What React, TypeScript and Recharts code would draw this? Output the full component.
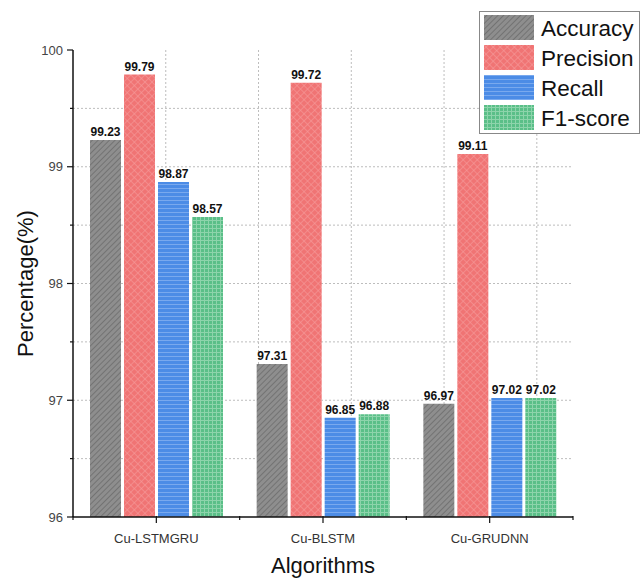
import { BarChart, Bar, XAxis, YAxis, CartesianGrid, Legend, LabelList, Label } from "recharts";

const categories = ["Cu-LSTMGRU", "Cu-BLSTM", "Cu-GRUDNN"];
const accuracy = [99.23, 97.31, 96.97];
const precision = [99.79, 99.72, 99.11];
const recall = [98.87, 96.85, 97.02];
const f1Score = [98.57, 96.88, 97.02];
const yTicks = [96, 96.5, 97, 97.5, 98, 98.5, 99, 99.5, 100];
const gridRows = [96.5, 97, 97.5, 98, 98.5, 99, 99.5];
// vertical grid steps of the original plot (x range 0..5.39)
const gridCols = [1, 2, 3, 4, 5];
const gridSpan = 5.39;

const series = [
  { key: "accuracy", name: "Accuracy", fill: "url(#patAcc)" },
  { key: "precision", name: "Precision", fill: "url(#patPrec)" },
  { key: "recall", name: "Recall", fill: "url(#patRec)" },
  { key: "f1", name: "F1-score", fill: "url(#patF1)" },
];

const data = categories.map((name, i) => ({
  name,
  accuracy: accuracy[i],
  precision: precision[i],
  recall: recall[i],
  f1: f1Score[i],
}));

const FONT = '"Liberation Sans", Arial, sans-serif';

function YTick(props: any) {
  const { x, y, payload } = props;
  const major = Number.isInteger(payload.value);
  return (
    <g>
      <line x1={x - (major ? 6 : 3)} x2={x} y1={y} y2={y} stroke="#111" strokeWidth={1.2} />
      {major && (
        <text x={x - 10} y={y} dy={4.5} textAnchor="end" fontSize={13} fill="#444" fontFamily={FONT}>
          {payload.value}
        </text>
      )}
    </g>
  );
}

function XTick(props: any) {
  const { x, y, payload, width, visibleTicksCount, index } = props;
  const half = width / visibleTicksCount / 2;
  return (
    <g>
      <line x1={x} x2={x} y1={y - 1} y2={y + 6} stroke="#111" strokeWidth={1.2} />
      <line x1={x - half} x2={x - half} y1={y - 1} y2={y + 3} stroke="#111" strokeWidth={1.2} />
      {index === visibleTicksCount - 1 && (
        <line x1={x + half} x2={x + half} y1={y - 1} y2={y + 3} stroke="#111" strokeWidth={1.2} />
      )}
      <text x={x} y={y + 26} textAnchor="middle" fontSize={13} fill="#333" fontFamily={FONT}>
        {payload.value}
      </text>
    </g>
  );
}

function LegendBox() {
  return (
    <svg width={162} height={124} style={{ display: "block" }}>
      <rect x={0.5} y={0.5} width={160} height={122} fill="#fff" stroke="#888" />
      {series.map((s, i) => (
        <g key={s.key}>
          <rect x={5} y={4 + i * 30} width={50} height={25} fill={s.fill} />
          <text x={62} y={16.5 + i * 30} dy={8} fontSize={22.5} fill="#111" fontFamily={FONT}>
            {s.name}
          </text>
        </g>
      ))}
    </svg>
  );
}

export default function App() {
  return (
    <div style={{ position: "absolute", left: 0, top: 0, width: 640, height: 580, background: "#fff" }}>
      <BarChart
        width={640}
        height={580}
        data={data}
        margin={{ top: 50, right: 67, bottom: 33, left: 28 }}
        barCategoryGap={17}
        barGap={3}
      >
        <defs>
          <pattern id="patAcc" width={4} height={4} patternUnits="userSpaceOnUse" patternTransform="rotate(45)">
            <rect width={4} height={4} fill="#8e8e8e" />
            <line x1={0} y1={0} x2={0} y2={4} stroke="#6c6c6c" strokeWidth={1.6} />
          </pattern>
          <pattern id="patPrec" width={5} height={5} patternUnits="userSpaceOnUse" patternTransform="rotate(45)">
            <rect width={5} height={5} fill="#f07474" />
            <line x1={0} y1={0} x2={0} y2={5} stroke="#f59a9a" strokeWidth={1.2} />
            <line x1={0} y1={0} x2={5} y2={0} stroke="#f59a9a" strokeWidth={1.2} />
          </pattern>
          <pattern id="patRec" width={4} height={4} patternUnits="userSpaceOnUse">
            <rect width={4} height={4} fill="#4c8ce6" />
            <line x1={0} y1={0.5} x2={4} y2={0.5} stroke="#79a9ee" strokeWidth={1} />
          </pattern>
          <pattern id="patF1" width={4} height={4} patternUnits="userSpaceOnUse">
            <rect width={4} height={4} fill="#5abf88" />
            <line x1={0} y1={0.5} x2={4} y2={0.5} stroke="#8dd4ab" strokeWidth={1} />
            <line x1={0.5} y1={0} x2={0.5} y2={4} stroke="#8dd4ab" strokeWidth={1} />
          </pattern>
        </defs>
        <CartesianGrid
          stroke="#bdbdbd"
          strokeDasharray="2 2"
          horizontalValues={gridRows}
          verticalCoordinatesGenerator={({ offset }: any) =>
            gridCols.map((c) => offset.left + (offset.width * c) / gridSpan)
          }
        />
        <XAxis
          dataKey="name"
          height={30}
          axisLine={{ stroke: "#111", strokeWidth: 1.5 }}
          tickLine={false}
          tickSize={0}
          tickMargin={0}
          tick={<XTick />}
          interval={0}
        >
          <Label value="Algorithms" position="bottom" offset={10} fontSize={22} fill="#111" fontFamily={FONT} />
        </XAxis>
        <YAxis
          width={45}
          domain={[96, 100]}
          ticks={yTicks}
          interval={0}
          allowDataOverflow
          axisLine={{ stroke: "#111", strokeWidth: 1.5 }}
          tickLine={false}
          tickSize={0}
          tickMargin={0}
          tick={<YTick />}
        >
          <Label value="Percentage(%)" angle={-90} position="center" dx={-25} fontSize={22} fill="#111" fontFamily={FONT} />
        </YAxis>
        <Legend
          layout="vertical"
          align="center"
          verticalAlign="middle"
          wrapperStyle={{ top: 11, left: 479, width: 162 }}
          content={() => <LegendBox />}
        />
        {series.map((s) => (
          <Bar key={s.key} dataKey={s.key} name={s.name} fill={s.fill} isAnimationActive={false}>
            <LabelList
              dataKey={s.key}
              position="top"
              offset={4}
              fontSize={12}
              fontWeight="bold"
              fill="#111"
              fontFamily={FONT}
            />
          </Bar>
        ))}
      </BarChart>
    </div>
  );
}
